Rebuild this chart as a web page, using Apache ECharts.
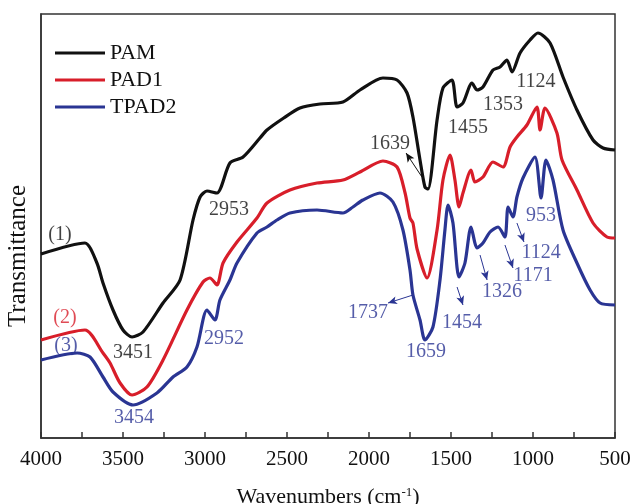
<!DOCTYPE html>
<html>
<head>
<meta charset="utf-8">
<script src="https://cdn.jsdelivr.net/npm/echarts@6/dist/echarts.min.js"></script>
<style>html,body{margin:0;padding:0;background:#fff}#c{width:633px;height:504px}</style>
</head>
<body>
<div id="c"></div>
<script>
// Wavenumber (cm-1), transmittance (arbitrary units)
const pamData = [
  [4000,184],[3732,195],[3659,175],[3622,155],[3561,128],[3500,108],[3445,101],[3378,106],
  [3256,135],[3152,158],[3073,218],[3030,241],[2988,247],[2927,245],[2848,275],[2768,281],
  [2665,300],[2622,308],[2520,320],[2421,330],[2299,334],[2159,336],[2055,348],[1915,360],
  [1829,358],[1768,345],[1732,321],[1689,278],[1659,251],[1640,249],[1585,318],[1549,350],
  [1494,358],[1463,331],[1427,335],[1372,355],[1341,348],[1305,351],[1244,368],[1201,371],
  [1159,378],[1128,366],[1079,385],[1018,398],[970,405],[896,395],[817,361],[732,328],
  [634,298],[573,290],[500,288]
];
const pad1Data = [
  [4000,98],[3732,108],[3622,85],[3579,75],[3518,55],[3445,43],[3354,51],[3256,78],
  [3110,128],[3012,156],[2970,160],[2927,153],[2890,175],[2805,196],[2683,220],[2622,235],
  [2482,248],[2317,255],[2159,258],[2055,266],[1915,277],[1829,271],[1780,245],[1750,220],
  [1732,215],[1707,189],[1646,160],[1585,208],[1549,258],[1506,283],[1476,258],[1451,231],
  [1427,245],[1378,268],[1354,256],[1305,261],[1244,276],[1183,271],[1140,291],[1098,301],
  [1037,313],[976,331],[957,308],[927,330],[854,305],[823,278],[732,248],[634,215],
  [549,201],[500,200]
];
const tpad2Data = [
  [4000,78],[3780,85],[3701,81],[3622,61],[3561,46],[3439,33],[3293,45],[3195,61],
  [3110,71],[3049,91],[2988,128],[2939,118],[2909,138],[2848,158],[2805,175],[2683,205],
  [2622,211],[2561,218],[2482,225],[2317,228],[2159,225],[2098,231],[2037,238],[1933,245],
  [1854,236],[1793,208],[1750,168],[1732,143],[1689,118],[1659,98],[1610,111],[1567,158],
  [1537,208],[1518,233],[1488,215],[1451,161],[1415,175],[1378,211],[1341,190],[1305,195],
  [1262,206],[1213,211],[1171,201],[1152,231],[1122,221],[1098,241],[1061,260],[988,281],
  [951,240],[921,278],[878,258],[817,208],[732,175],[652,148],[591,135],[500,133]
];
const xTicks = [4000,3500,3000,2500,2000,1500,1000,500];
const seriesNames = ['PAM','PAD1','TPAD2'];

// Peak labels: [wavenumber, value, text]
const blackLabels = [[3884,203,'(1)'],[3439,85,'3451'],[2854,228,'2953'],[1872,294,'1639'],
  [1396,310,'1455'],[1183,333,'1353'],[982,356,'1124']];
const redLabels = [[3854,120,'(2)']];
const blueLabels = [[3848,92,'(3)'],[3433,20,'3454'],[2884,99,'2952'],[951,222,'953'],
  [951,185,'1124'],[1000,162,'1171'],[1189,146,'1326'],[1433,115,'1454'],[1652,86,'1659'],
  [2006,125,'1737']];
// Arrows: [[from wn, from v],[to wn, to v]]
const blackArrows = [[[1677,261],[1774,285]]];
const blueArrows = [
  [[1098,215],[1055,196]],[[1171,193],[1122,170]],[[1323,183],[1280,158]],
  [[1463,151],[1427,133]],[[1732,143],[1884,135]]
];

const BLACK = '#111111', RED = '#d81e2a', BLUE = '#2a3593';
const FONT = '"Liberation Serif", "Times New Roman", serif';

function labelSeries(data, color){
  return {
    type:'scatter', data:data, symbolSize:0, silent:true, z:5,
    label:{show:true, position:'inside', formatter:p=>p.value[2], color:color,
      fontFamily:FONT, fontSize:20}
  };
}
function arrowLines(arrows, color){
  return {
    silent:true, symbol:['none','arrow'], symbolSize:[6,9],
    lineStyle:{color:color, width:1, type:'solid'}, label:{show:false},
    data: arrows.map(a=>[{coord:a[0]},{coord:a[1]}])
  };
}

const chart = echarts.init(document.getElementById('c'));
chart.setOption({
  animation:false,
  grid:{left:41, right:18, top:14, bottom:66, show:true, borderColor:'#333', borderWidth:1.5,
    containLabel:false, outerBoundsMode:'none'},
  legend:{
    data:seriesNames, orient:'vertical', left:55, top:42, padding:0, itemWidth:50, itemHeight:3,
    itemGap:5, icon:'rect',
    textStyle:{fontFamily:FONT, fontSize:22, lineHeight:22, color:'#111'}
  },
  graphic:[{
    type:'text', x:18, y:256, rotation:Math.PI/2, silent:true,
    style:{text:'Transmittance', fill:'#111', font:'25px "Liberation Serif", serif',
      align:'center', verticalAlign:'middle'}
  }],
  xAxis:{
    type:'value', inverse:true, min:500, max:4000, interval:500,
    axisLine:{lineStyle:{color:'#333', width:1.5}},
    axisTick:{inside:true, length:6, lineStyle:{color:'#333', width:1.5}},
    minorTick:{show:true, splitNumber:2, length:6, lineStyle:{color:'#333', width:1.5}},
    splitLine:{show:false},
    axisLabel:{color:'#111', fontFamily:FONT, fontSize:21, margin:11,
      customValues:xTicks, formatter:v=>String(v)},
    name:'Wavenumbers (cm{sup|-1})', nameLocation:'middle', nameGap:48,
    nameTextStyle:{color:'#111', fontFamily:FONT, fontSize:22,
      rich:{sup:{fontSize:13, verticalAlign:'top', padding:[0,0,10,0], fontFamily:FONT, color:'#111'}}}
  },
  yAxis:{
    type:'value', min:0, max:424,
    axisLine:{show:true, lineStyle:{color:'#333', width:1.5}},
    axisTick:{show:false}, axisLabel:{show:false}, splitLine:{show:false}
  },
  series:[
    {name:'PAM', type:'line', data:pamData, symbol:'none', smooth:0.25,
      lineStyle:{color:BLACK, width:3.2}, itemStyle:{color:BLACK}, z:3,
      markLine:arrowLines(blackArrows, BLACK)},
    {name:'PAD1', type:'line', data:pad1Data, symbol:'none', smooth:0.25,
      lineStyle:{color:RED, width:3.2}, itemStyle:{color:RED}, z:3},
    {name:'TPAD2', type:'line', data:tpad2Data, symbol:'none', smooth:0.25,
      lineStyle:{color:BLUE, width:3.2}, itemStyle:{color:BLUE}, z:3,
      markLine:arrowLines(blueArrows, BLUE)},
    labelSeries(blackLabels, BLACK),
    labelSeries(redLabels, RED),
    labelSeries(blueLabels, BLUE)
  ]
});
</script>
</body>
</html>
